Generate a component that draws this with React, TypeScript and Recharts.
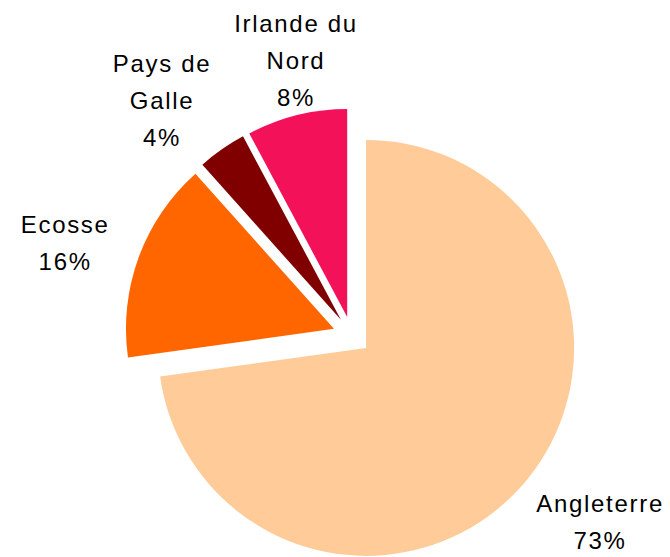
import React from "react";
import { PieChart, Pie, Cell, Sector } from "recharts";

const regions = ["Angleterre", "Ecosse", "Pays de Galle", "Irlande du Nord"];
const labelLines = [["Angleterre"], ["Ecosse"], ["Pays de", "Galle"], ["Irlande du", "Nord"]];
const shares = [72.8, 15.6, 3.8, 7.8];
const colors = ["#FFCC99", "#FF6600", "#800000", "#F31159"];

const data = regions.map((name, i) => ({ name, value: shares[i] }));

const RAD = Math.PI / 180;
const EXPLODE = 19;
const LABEL_R = 300;
const LINE_H = 37;
const labelNudge = [
  [22, -10],
  [-5, 11],
  [-18, 11],
  [17, 16],
];

const ExplodedSector = (props: any) => {
  const { cx, cy, midAngle } = props;
  const ox = EXPLODE * Math.cos(-midAngle * RAD);
  const oy = EXPLODE * Math.sin(-midAngle * RAD);
  return <Sector {...props} cx={cx + ox} cy={cy + oy} stroke="none" />;
};

const renderLabel = (props: any) => {
  const { cx, cy, midAngle, percent, index } = props;
  const x = cx + LABEL_R * Math.cos(-midAngle * RAD) + labelNudge[index][0];
  const y = cy + LABEL_R * Math.sin(-midAngle * RAD) + labelNudge[index][1];
  const lines = [...labelLines[index], `${Math.round(percent * 100)}%`];
  const first = y - ((lines.length - 1) * LINE_H) / 2 + 8.6;
  return (
    <text
      x={x}
      y={first}
      textAnchor="middle"
      fill="#000"
      fontFamily="'Liberation Sans', Arial, sans-serif"
      fontSize={24}
      letterSpacing={1.7}
    >
      {lines.map((l, i) => (
        <tspan key={i} x={x} y={first + i * LINE_H}>
          {l}
        </tspan>
      ))}
    </text>
  );
};

export default function App() {
  return (
    <PieChart width={662} height={549} margin={{ top: 0, right: 0, bottom: 0, left: 0 }}>
      <Pie
        data={data}
        dataKey="value"
        nameKey="name"
        cx={343.8}
        cy={327.4}
        outerRadius={208}
        startAngle={90}
        endAngle={-270}
        stroke="none"
        isAnimationActive={false}
        labelLine={false}
        label={renderLabel}
        shape={ExplodedSector}
        activeShape={ExplodedSector}
        inactiveShape={ExplodedSector}
      >
        {data.map((d, i) => (
          <Cell key={d.name} fill={colors[i]} />
        ))}
      </Pie>
    </PieChart>
  );
}
